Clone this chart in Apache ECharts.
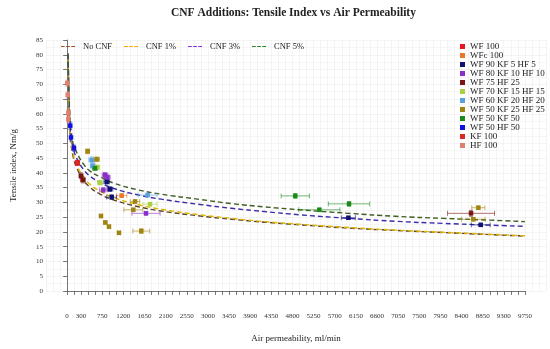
<!DOCTYPE html>
<html><head><meta charset="utf-8">
<script src="https://cdn.jsdelivr.net/npm/echarts@6/dist/echarts.min.js"></script>
<style>html,body{margin:0;padding:0;background:#fff}#c{width:550px;height:349px}</style>
</head><body><div id="c"></div>
<script>
// ---------- data ----------
const chartTitle = 'CNF Additions: Tensile Index vs Air Permeability';
const curveNames = ['No CNF', 'CNF 1%', 'CNF 3%', 'CNF 5%'];
const curveX = [25, 40, 60, 85, 130, 206, 350, 500, 703, 1000, 1500, 2000, 2832, 3500, 4200, 4960, 6000, 7000, 8000, 9000, 9750];
const noCnfY = [79, 65, 56, 50, 45.5, 41.8, 37.6, 35, 32.8, 30.8, 28.6, 27.1, 25.4, 24.3, 23.3, 22.4, 21.3, 20.5, 19.8, 19.1, 18.6];
const cnf1Y  = [79, 65.5, 57, 51, 46.5, 42.8, 38.6, 36, 33.8, 31.6, 29.3, 27.7, 25.8, 24.6, 23.5, 22.6, 21.5, 20.6, 19.9, 19.2, 18.7];
const cnf3Y  = [80, 67, 58.5, 52.5, 48.5, 45, 41.2, 38.8, 36.8, 34.7, 32.6, 31.1, 29.3, 28, 26.9, 25.8, 24.6, 23.6, 22.9, 22.3, 21.9];
const cnf5Y  = [80.5, 68, 60, 54, 50, 47, 43, 40.5, 38.7, 36.5, 34.3, 32.8, 31, 29.6, 28.5, 27.5, 26.3, 25.3, 24.6, 24, 23.5];

const groupNames = ['WF 100', 'WFc 100', 'WF 90 KF 5 HF 5', 'WF 80 KF 10 HF 10', 'WF 75 HF 25',
  'WF 70 KF 15 HF 15', 'WF 60 KF 20 HF 20', 'WF 50 KF 25 HF 25', 'WF 50 KF 50', 'WF 50 HF 50', 'KF 100', 'HF 100'];

// each point: [air permeability, tensile index, x error, y error]
const wf100 = [[219, 43.5, 40, 0.8]];
const wfc100 = [[1164, 32.3, 110, 0.6]];
const wf90kf5hf5 = [[845, 37, 60, 0.8], [915, 34.5, 60, 0.8], [951, 31.8, 106, 0.8], [5990, 24.8, 150, 0.5], [8808, 22.4, 200, 0.5]];
const wf80kf10hf10 = [[809, 39.3, 60, 0.8], [860, 38.5, 60, 0.8], [773, 34.2, 80, 0.8], [1682, 26.3, 300, 0.6]];
const wf75hf25 = [[298, 39, 40, 1], [340, 37.6, 50, 1], [8601, 26.3, 500, 1]];
const wf70kf15hf15 = [[645, 41.9, 50, 0.8], [702, 36.7, 50, 0.8], [1767, 29.4, 150, 0.6]];
const wf60kf20hf20 = [[525, 44.4, 60, 1], [547, 42.4, 50, 1], [1717, 32.5, 200, 0.6]];
const wf50kf25hf25 = [[440, 47.3, 40, 0.8], [632, 44.6, 60, 0.8], [724, 25.4, 30, 0.5], [816, 23.2, 30, 0.5], [894, 21.8, 30, 0.5], [1107, 19.7, 30, 0.4], [1448, 30.3, 100, 0.6], [1412, 27.5, 200, 0.6], [1582, 20.3, 180, 0.8], [8757, 28.2, 140, 0.6], [8650, 24.3, 250, 0.6]];
const wf50kf50 = [[596, 41.6, 50, 0.8], [4860, 32.2, 300, 0.8], [5372, 27.5, 440, 0.6], [6004, 29.5, 440, 0.8]];
const wf50hf50 = [[70, 56, 15, 1.2], [85, 52, 15, 1.2], [149, 48.4, 20, 1]];
const kf100 = [[230, 43.3, 30, 0.8]];
const hf100 = [[5, 70.4, 8, 1], [15, 66.4, 8, 1], [28, 60.4, 8, 1], [28, 58.2, 8, 1]];

const groupData = [wf100, wfc100, wf90kf5hf5, wf80kf10hf10, wf75hf25, wf70kf15hf15, wf60kf20hf20, wf50kf25hf25, wf50kf50, wf50hf50, kf100, hf100];

// x tick labels shown on the axis
const xTickLabels = [0, 300, 750, 1200, 1650, 2100, 2550, 3000, 3450, 3900, 4350, 4800, 5250, 5700, 6150, 6600, 7050, 7500, 7950, 8400, 8850, 9300, 9750];

// ---------- styles ----------
const FONT = 'Liberation Serif';
const groupColors = ['#e8141e', '#e8782a', '#101070', '#8a2fc8', '#7a1414', '#a8d040', '#5aa0e0', '#a08410', '#1a8a1a', '#1010e0', '#d82828', '#e08070'];
const curveLineColors = ['#5a4630', '#e0b400', '#3a2fa8', '#3e5e22'];
const curveKeyColors = ['#a0522d', '#ffa500', '#8a2be2', '#228b22'];
const dashIcon = 'path://M0,0h4v1.2h-4zM5.5,0h4v1.2h-4zM11,0h4v1.2h-4z';

const curveYs = [noCnfY, cnf1Y, cnf3Y, cnf5Y];

function errRender(params, api) {
  const x = api.value(0), y = api.value(1), ex = api.value(2), ey = api.value(3);
  const col = api.visual('color');
  const st = { stroke: col, lineWidth: 0.8, opacity: 0.75 };
  const ch = [];
  if (ex > 0) {
    const l = api.coord([x - ex, y]), r = api.coord([x + ex, y]);
    ch.push({ type: 'line', shape: { x1: l[0], y1: l[1], x2: r[0], y2: r[1] }, style: st });
    ch.push({ type: 'line', shape: { x1: l[0], y1: l[1] - 2.5, x2: l[0], y2: l[1] + 2.5 }, style: st });
    ch.push({ type: 'line', shape: { x1: r[0], y1: r[1] - 2.5, x2: r[0], y2: r[1] + 2.5 }, style: st });
  }
  if (ey > 0) {
    const t = api.coord([x, y + ey]), b = api.coord([x, y - ey]);
    ch.push({ type: 'line', shape: { x1: t[0], y1: t[1], x2: b[0], y2: b[1] }, style: st });
    ch.push({ type: 'line', shape: { x1: t[0] - 2, y1: t[1], x2: t[0] + 2, y2: t[1] }, style: st });
    ch.push({ type: 'line', shape: { x1: b[0] - 2, y1: b[1], x2: b[0] + 2, y2: b[1] }, style: st });
  }
  return { type: 'group', children: ch };
}

const series = [];
curveNames.forEach((n, i) => {
  series.push({
    name: n, type: 'line', xAxisIndex: 1, yAxisIndex: 1, smooth: true, symbol: 'none',
    data: curveX.map((x, k) => [x, curveYs[i][k]]),
    lineStyle: { color: curveLineColors[i], width: 1.4, type: [5, 3] },
    itemStyle: { color: curveKeyColors[i] }, z: 3
  });
});
groupNames.forEach((n, i) => {
  series.push({
    name: n, type: 'custom', xAxisIndex: 1, yAxisIndex: 1, clip: false,
    renderItem: errRender, data: groupData[i], itemStyle: { color: groupColors[i] }, z: 4
  });
  series.push({
    name: n, type: 'scatter', xAxisIndex: 1, yAxisIndex: 1, symbol: 'rect', symbolSize: 4.5,
    data: groupData[i].map(p => [p[0], p[1]]), itemStyle: { color: groupColors[i], opacity: 1 }, z: 5
  });
});

const chart = echarts.init(document.getElementById('c'), null, { renderer: 'canvas' });
chart.setOption({
  animation: false,
  backgroundColor: '#fff',
  textStyle: { fontFamily: FONT },
  title: {
    text: chartTitle, left: 166, top: 2,
    textStyle: { fontFamily: FONT, fontSize: 11.5, fontWeight: 'bold', color: '#222' }
  },
  legend: [{
    data: curveNames.map((n, i) => ({ name: n, icon: dashIcon, itemStyle: { color: curveKeyColors[i] } })),
    left: 56, top: 37, itemWidth: 14, itemHeight: 1.3, itemGap: 12,
    textStyle: { fontFamily: FONT, fontSize: 8.5, color: '#222', padding: [0, 0, 0, 3] }
  }, {
    data: groupNames.map(n => ({ name: n, icon: 'rect' })),
    orient: 'vertical', left: 455, top: 37, itemWidth: 5, itemHeight: 5, itemGap: 0,
    textStyle: { fontFamily: FONT, fontSize: 9, color: '#222', lineHeight: 9 }
  }],
  grid: [
    { left: 46, right: 4, top: 40, bottom: 58 },
    { left: 67, right: 25, top: 40, bottom: 58 }
  ],
  xAxis: [{
    gridIndex: 0, type: 'value', min: -450, max: 10200, interval: 150,
    axisLine: { show: false }, axisTick: { show: false }, axisLabel: { show: false },
    splitLine: { show: true, lineStyle: { color: '#ececec', width: 0.6 } }
  }, {
    gridIndex: 1, type: 'value', min: 0, max: 9750, interval: 150, offset: 10,
    axisLine: { show: true, lineStyle: { color: '#555', width: 0.8 } },
    axisTick: { show: true, length: 4, lineStyle: { color: '#555', width: 0.8 } },
    axisLabel: {
      fontFamily: FONT, fontSize: 7, color: '#333', margin: 12, hideOverlap: false,
      formatter: v => (xTickLabels.indexOf(v) >= 0 ? String(v) : '')
    },
    splitLine: { show: false },
    name: 'Air permeability, ml/min', nameLocation: 'middle', nameGap: 33,
    nameTextStyle: { fontFamily: FONT, fontSize: 9, color: '#222' }
  }],
  yAxis: [{
    gridIndex: 0, type: 'value', min: 0, max: 85, interval: 5, offset: -3,
    axisLine: { show: true, lineStyle: { color: '#555', width: 0.8 } },
    axisTick: { show: true, length: 4, lineStyle: { color: '#555', width: 0.8 } },
    axisLabel: { fontFamily: FONT, fontSize: 7, color: '#333', margin: 6 },
    splitLine: { show: true, lineStyle: { color: '#ececec', width: 0.6 } },
    minorTick: { show: false, splitNumber: 2 },
    minorSplitLine: { show: true, lineStyle: { color: '#f0f0f0', width: 0.6 } },
    name: 'Tensile index, Nm/g', nameLocation: 'middle', nameGap: 31, nameRotate: 90,
    nameTextStyle: { fontFamily: FONT, fontSize: 9, color: '#222' }
  }, {
    gridIndex: 1, type: 'value', min: 0, max: 85, interval: 5, show: false
  }],
  series: series
});
</script></body></html>
